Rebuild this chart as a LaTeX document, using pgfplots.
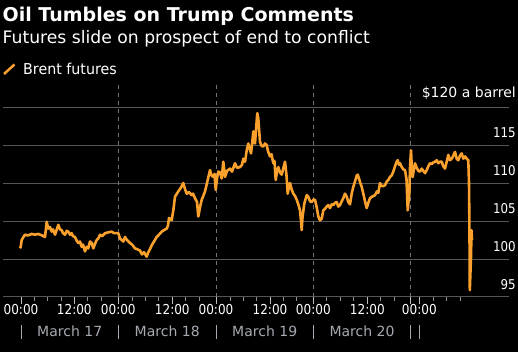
\documentclass[border=0pt]{standalone}
\usepackage{fontspec}
\setmainfont{DejaVu Sans}[FakeStretch=0.88]
\newfontfamily\titlefont{DejaVu Sans}
\newfontfamily\widefont{DejaVu Sans}
\newfontfamily\legfont{DejaVu Sans}[FakeStretch=0.95]
\usepackage{pgfplots}
\pgfplotsset{compat=1.18}
\definecolor{bborange}{RGB}{250,160,45}
\definecolor{gridgray}{RGB}{85,85,85}
\definecolor{dashgray}{RGB}{115,115,115}
\definecolor{monthgray}{RGB}{165,170,178}
\definecolor{tickmajor}{RGB}{190,190,190}
\definecolor{tickminor}{RGB}{140,140,140}
\pgfplotstableread{
x y
20 101.4
20.7 101.6
21.7 102.5
23 102.8
25 103.2
28 103.1
31.7 103.3
35 103.2
38.3 103.3
42 103.1
45 102.9
46.7 104.9
48.3 104.0
50 104.2
51.7 103.6
53 103.9
55 103.2
57 104.0
58.3 104.5
60 103.9
61.7 103.8
63 103.4
65 103.2
66.7 103.7
68.3 103.6
70 103.2
71.7 103.4
73 103.0
75 102.9
76.7 102.4
78.3 102.1
80 102.3
81.7 101.6
83 101.9
85 101.0
86.7 101.6
88.3 101.4
90 102.3
91.7 102.1
93.3 101.4
95 102.0
96.7 102.5
98.3 102.7
100 103.2
102 103.0
105 103.4
108 103.5
111.7 103.6
114 103.4
116.7 103.4
118.3 103.4
120 102.7
121.7 102.5
123.3 102.3
125 102.9
127 102.5
130 102.1
132 101.9
135 101.4
137 101.3
140 101.1
142 100.6
144 100.9
146.7 100.3
148 100.8
150 101.3
151.7 101.8
154 102.3
156.7 102.9
159 103.2
161.7 103.6
164 103.8
166.7 104.0
168 104.4
169 105.4
171.7 105.1
173.3 106.4
175 108.2
178.3 108.9
181 109.4
183.3 110.0
185 109.2
186.7 108.6
189 108.8
191.7 108.4
193 108.6
195 108.0
197 107.5
198.3 105.6
200 106.8
201.7 107.8
203 108.2
205 108.9
207 110.0
210 111.7
211.5 111.0
213.3 110.8
214.5 111.2
215.7 109.1
217 110.6
218.3 111.5
220 111.4
221.7 110.6
223.3 112.8
225 110.8
227 111.6
230 111.9
232 111.5
235 112.6
237 112.0
240 112.1
242 112.4
243.3 113.2
245 112.8
246.7 114.3
248.3 115.2
249.5 114.6
251 113.9
252 115.0
253.3 116.8
254 115.8
255 115.2
256 117.0
257.3 119.2
258.3 118.5
259 117.2
260 115.4
261.5 114.9
263.3 114.8
265 115.2
266.7 115.0
268 114.2
270 113.5
271.5 113.8
273.3 112.6
274.5 112.9
275.7 110.4
277 111.5
278.3 112.1
280 111.4
281.7 111.1
283 111.8
285 112.8
286.5 111.0
287.7 108.6
289 109.5
290 110.0
291.5 109.2
293.3 108.6
295 108.3
296.7 107.8
298.3 107.2
300 106.4
301 105.0
301.7 103.8
302.5 105.5
304.3 107.3
306.7 108.4
308.3 108.2
310 107.6
311.7 107.5
313.3 107.8
315 107.8
316.7 106.8
318.3 105.6
320 105.1
321.7 105.3
323.3 106.4
325 106.6
326.7 106.9
328.3 107.1
330 106.7
331.7 107.2
333.3 107.1
335 107.4
336.7 107.5
338.3 106.9
340 107.1
341.7 107.6
343.3 108.0
345 108.6
346.7 108.2
348.3 107.5
350 107.2
351.7 108.6
353.3 109.5
355 110.2
356.7 111.0
357.7 111.1
359 110.6
360.3 110.0
361.7 109.5
363.3 108.6
365 107.6
366.7 106.7
368.3 107.4
370 108.0
372 108.2
375 108.4
377 108.9
378.3 108.7
380 110.0
381.7 109.6
383.3 109.6
385 109.7
386.7 110.2
388.3 110.4
390 110.8
391.7 111.0
393.3 111.5
395 112.2
396.7 112.8
397.7 113.0
399 112.4
400 112.6
401.7 112.1
403.3 111.8
405 111.7
406.5 110.5
407.7 106.4
408.5 107.5
409.3 108.5
410 112.0
411 114.3
411.8 112.0
412.7 110.8
413.5 111.5
415 112.6
416.7 112.0
418.3 111.6
420 111.5
421.7 111.9
423.3 111.6
425 111.3
426.7 111.7
428.3 112.2
430 112.6
431.7 112.5
433.3 112.7
435 112.8
436.7 113.0
438.3 112.6
440 112.8
441.7 112.8
443.3 112.2
445 111.9
446.7 112.8
448.3 113.7
450 113.0
451.7 113.2
453.3 113.6
455 114.1
456.7 113.2
458.3 113.0
460 113.6
461.7 113.9
463.3 113.2
465 113.5
466.7 113.2
468.3 113.0
469 110.0
469.5 103.0
469.8 95.9
470.5 98.5
471 100.3
471.5 103.8
472 102.5
}\brent
\begin{document}
\begin{tikzpicture}
\useasboundingbox[fill=black] (0pt,0pt) rectangle (518pt,352pt);
\begin{axis}[
  at={(3pt,55pt)}, anchor=south west,
  width=506pt, height=212pt, scale only axis,
  xmin=3, xmax=509, ymin=95, ymax=122.9,
  axis x line*=bottom, axis y line*=right,
  x axis line style={gridgray, line width=1pt, -},
  y axis line style={draw=none},
  ytick={95,100,105,110,115,120},
  yticklabels={95,100,105,110,115,{\widefont\fontsize{14}{15}\selectfont\$120 a barrel}},
  ymajorgrids, grid style={gridgray, line width=1pt},
  every major y tick/.style={draw=none},
  yticklabel style={anchor=south east, inner sep=0pt, yshift=7pt, white,
     font=\fontsize{13.5}{14}\selectfont},
  tick align=outside,
  xtick={21,74.3,118.3,172.3,216,270,313.3,367.3,410.7,419.3},
  xticklabels={00:00,12:00,00:00,12:00,00:00,12:00,00:00,12:00,{},00:00},
  minor xtick={34.3,47.7,61,87.7,101,132,145.3,158.7,185.7,199,230,243.3,256.7,283.3,296.7,326.7,340,353.3,380.7,394,433.3,446.7,460},
  major tick length=7pt, minor tick length=4pt,
  every major x tick/.style={tickmajor, line width=1pt},
  every minor x tick/.style={tickminor, line width=1pt},
  xticklabel style={anchor=north, inner sep=0pt, white,
     font=\fontsize{13.7}{14}\selectfont},
  clip=false,
]
\foreach \d in {118.3,216,313.3,410.7}{
  \edef\tmp{\noexpand\draw[dashgray, line width=0.9pt, dash pattern=on 4pt off 4pt] (axis cs:\d,95) -- (axis cs:\d,122.9);}\tmp
}
\addplot[bborange, line width=2.6pt, line join=round, mark=none] table[x=x,y=y] {\brent};
\end{axis}
\node[anchor=base west, inner sep=0pt, white, font=\titlefont\bfseries\fontsize{19}{21}\selectfont] at (2.5pt,330.3pt) {Oil Tumbles on Trump Comments};
\node[anchor=base west, inner sep=0pt, white, font=\widefont\fontsize{17.2}{19}\selectfont] at (2.5pt,308.7pt) {Futures slide on prospect of end to conflict};
\draw[bborange, line width=2.5pt] (4pt,278pt) -- (14.5pt,287.5pt);
\node[anchor=base west, inner sep=0pt, white, font=\legfont\fontsize{15}{16}\selectfont] at (23pt,277pt) {Brent futures};
\foreach \s in {21,118.3,216,313.3,410.7,419.3}{
  \draw[monthgray, line width=1pt] (\s pt,13pt) -- (\s pt,27pt);
}
\node[anchor=base, inner sep=0pt, monthgray, font=\widefont\fontsize{14}{15}\selectfont] at (69.7pt,15.3pt) {March 17};
\node[anchor=base, inner sep=0pt, monthgray, font=\widefont\fontsize{14}{15}\selectfont] at (167.2pt,15.3pt) {March 18};
\node[anchor=base, inner sep=0pt, monthgray, font=\widefont\fontsize{14}{15}\selectfont] at (264.7pt,15.3pt) {March 19};
\node[anchor=base, inner sep=0pt, monthgray, font=\widefont\fontsize{14}{15}\selectfont] at (362pt,15.3pt) {March 20};
\end{tikzpicture}
\end{document}
